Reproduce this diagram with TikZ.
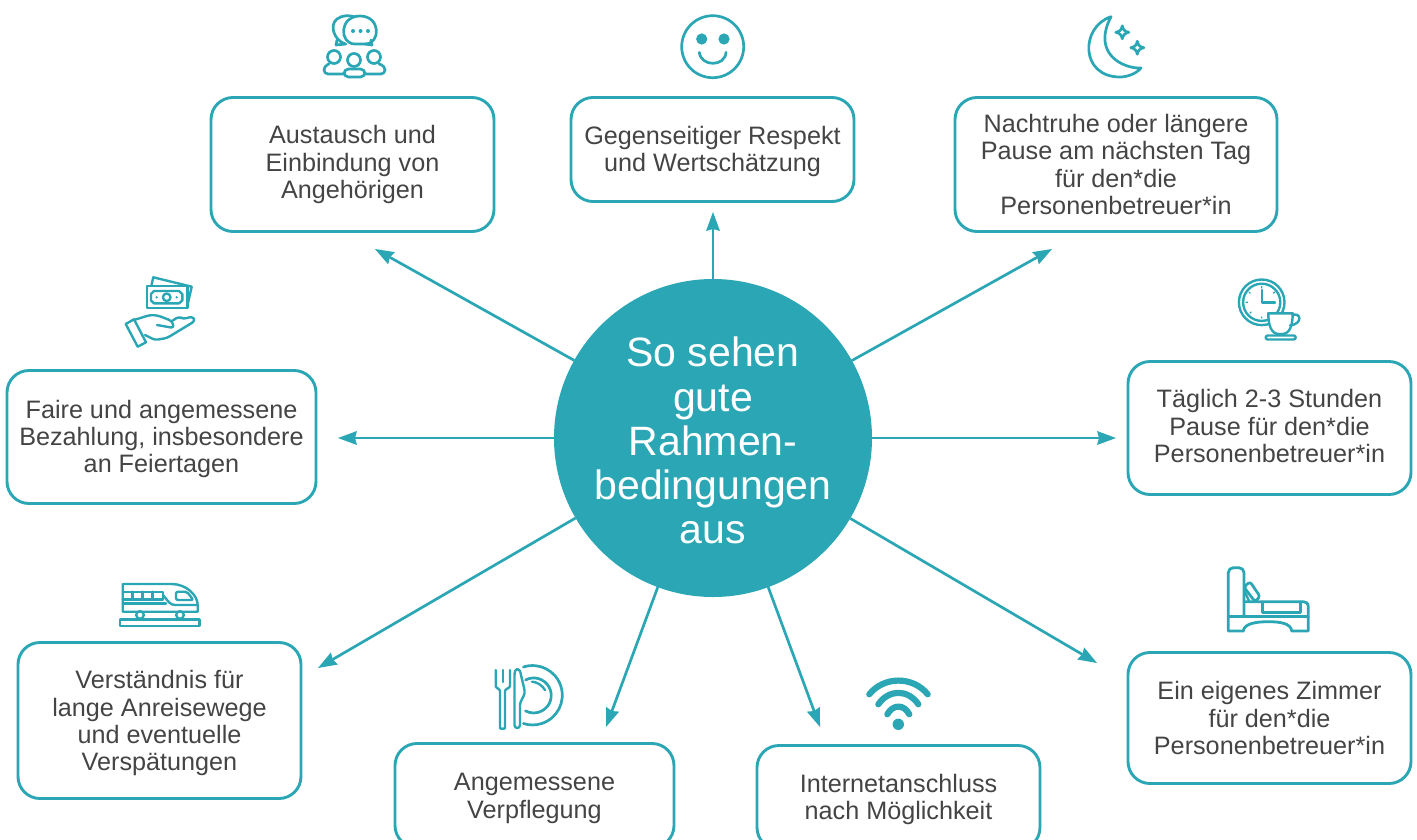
\documentclass[tikz,border=0pt]{standalone}
\usepackage{fontspec}
\setmainfont{Liberation Sans}
\usetikzlibrary{%
  positioning
 ,arrows.meta
}
\definecolor{petrol}{HTML}{2AA6B4}
\definecolor{schrift}{HTML}{444444}
\newcommand{\tief}[1]{\rule{0pt}{#1pt}}
\newcommand{\hoch}[1]{\rule[-#1pt]{0pt}{#1pt}}
\tikzstyle{rahmen}=[x=1pt,y=-1pt,inner sep=0pt,outer sep=0pt]
\tikzstyle{hub}=[circle,fill=petrol,minimum size=318pt,align=center,text=white,font=\fontsize{41}{44.3}\selectfont]
\tikzstyle{box}=[rectangle,draw=petrol,line width=2.9pt,rounded corners=22pt,align=center,text=schrift,font=\fontsize{25.2}{27.3}\selectfont]
\tikzstyle{pfeil}=[color=petrol,line width=2.7pt,-{Stealth[length=19pt,width=14pt,inset=2pt,line width=0pt]}]
\tikzstyle{icon}=[draw=petrol,line width=2.7pt,line cap=round,line join=round]
\tikzstyle{klein}=[icon,line width=2.4pt]
\tikzstyle{punkt}=[fill=petrol,draw=none]

\begin{document}
\begin{tikzpicture}[rahmen]
  \useasboundingbox (0,0) rectangle (1417,839);
  \node[hub] (mitte) at (713,438) {\tief{35}So sehen\\gute\\Rahmen-\\bedingungen\\aus};
% 
  \node[box,minimum width=283pt,minimum height=134pt] (b_aust) at (352.5,164.5) {Austausch und\\Einbindung von\\Angehörigen};
  \node[box,minimum width=283pt,minimum height=104pt] (b_resp) at (712.5,149.5) {\tief{22}Gegenseitiger Respekt\\und Wertschätzung};
  \node[box,minimum width=322pt,minimum height=134pt] (b_nacht) at (1116,164.5) {Nachtruhe oder längere\\Pause am nächsten Tag\\für den*die\\Personenbetreuer*in};
  \node[box,minimum width=283pt,minimum height=133pt] (b_pause) at (1269.5,428) {Täglich 2-3 Stunden\\Pause für den*die\\Personenbetreuer*in\hoch{4}};
  \node[box,minimum width=309pt,minimum height=133pt] (b_geld) at (161.5,437) {\tief{22}Faire und angemessene\\Bezahlung, insbesondere\\an Feiertagen};
  \node[box,minimum width=283pt,minimum height=156pt] (b_weg) at (159.5,720.5) {\tief{24}Verständnis für\\lange Anreisewege\\und eventuelle\\Verspätungen};
  \node[box,minimum width=279pt,minimum height=104pt] (b_essen) at (534.5,795.5) {\tief{23}Angemessene\\Verpflegung};
  \node[box,minimum width=283pt,minimum height=104pt] (b_netz) at (898.5,797.5) {\tief{22}Internetanschluss\\nach Möglichkeit};
  \node[box,minimum width=283pt,minimum height=131pt] (b_zimmer) at (1269.5,718) {Ein eigenes Zimmer\\für den*die\\Personenbetreuer*in};
% 
  \coordinate (t_aust) at (375,249);
  \coordinate (t_resp) at (713,212);
  \coordinate (t_nacht) at (1052,249);
  \coordinate (t_pause) at (1116,438);
  \coordinate (t_geld) at (338,438);
  \coordinate (t_weg) at (318,668);
  \coordinate (t_essen) at (606,727);
  \coordinate (t_netz) at (820,727);
  \coordinate (t_zimmer) at (1097,663);
  \path[pfeil]
  (mitte) edge (t_aust)
  (mitte) edge (t_resp)
  (mitte) edge (t_nacht)
  (mitte) edge (t_pause)
  (mitte) edge (t_geld)
  (mitte) edge (t_weg)
  (mitte) edge (t_essen)
  (mitte) edge (t_netz)
  (mitte) edge (t_zimmer);
% Menschen mit Sprechblasen
  \draw[icon] (345,44) .. controls (334,40) and (329,25) .. (337,19) .. controls (342,15) and (350,15) .. (355,17);
  \draw[icon] (337,40) -- (336,45) -- (346,44);
  \draw[icon,fill=white] (365,44) .. controls (381,44) and (381,16) .. (360,16) .. controls (339,16) and (339,44) .. (355,44) -- (365,44);
  \draw[icon] (371,40) -- (372,45) -- (365,44);
  \fill[punkt] (353,31) circle (2) (360.5,31) circle (2) (368,31) circle (2);
  \draw[icon] (334,57) circle (6.5) (374,57) circle (6.5) (354,60) circle (6.5);
  \draw[icon,rounded corners=4pt] (329,64) -- (324,66) -- (324,74) -- (345,74) (379,64) -- (385,66) -- (385,74) -- (365,74);
  \draw[icon,fill=white,rounded corners=4.5pt] (344,69) rectangle (365,77);
% Smiley
  \draw[icon] (712.7,46.7) circle (31);
  \fill[punkt] (701.7,39) circle (5.6) (724,39) circle (5.6);
  \draw[icon] (699.3,52.3) .. controls (701,67) and (725,67) .. (726,52.3);
% Mond
  \draw[icon] (1111,16.7) .. controls (1080,27) and (1080,77) .. (1120,77) .. controls (1128,77) and (1137,73) .. (1141,68) .. controls (1125,69) and (1091,55) .. (1111,16.7);
  \draw[icon] (1122.3,25.8) .. controls (1123,30) and (1125,31.6) .. (1128.8,32.3) .. controls (1125,33) and (1123,35) .. (1122.3,38.8) .. controls (1121.6,35) and (1119.6,33) .. (1115.8,32.3) .. controls (1119.6,31.6) and (1121.6,30) .. (1122.3,25.8);
  \draw[icon] (1137.3,41.2) .. controls (1138,45.4) and (1140,47) .. (1143.8,47.7) .. controls (1140,48.4) and (1138,50.4) .. (1137.3,54.2) .. controls (1136.6,50.4) and (1134.6,48.4) .. (1130.8,47.7) .. controls (1134.6,47) and (1136.6,45.4) .. (1137.3,41.2);
% Uhr und Tasse
  \draw[klein] (1261.7,302.3) circle (22.8) (1261.7,302.3) circle (18.6);
  \draw[klein] (1261.7,290) -- (1261.7,302.3) -- (1275,302.3);
  \draw[icon,line width=1.4pt] (1261.7,286.5) -- (1261.7,288) (1246,302.3) -- (1247.5,302.3) (1261.7,317) -- (1261.7,318) (1249,292) -- (1250,293) (1274.5,292) -- (1273.5,293) (1250,313) -- (1251,312);
  \draw[klein,fill=white] (1268.3,313.3) -- (1292.7,313.3) .. controls (1292.7,325) and (1290,334) .. (1282,334) -- (1279,334) .. controls (1271,334) and (1268.3,325) .. (1268.3,313.3) -- cycle;
  \draw[klein] (1292.7,315) .. controls (1301,312) and (1303,324) .. (1290,325.5);
  \draw[klein,rounded corners=2pt] (1265.7,335.5) rectangle (1295.7,339.5);
% Geld und Hand
  \draw[klein] (146.7,285.7) rectangle (187.3,307.7);
  \draw[klein] (154,291) -- (179,291) -- (182.3,294) -- (182.3,300.5) -- (179,303.3) -- (154,303.3) -- (151,300.5) -- (151,294) -- cycle;
  \draw[klein] (166.7,297.3) circle (3.8);
  \fill[punkt] (156.7,297.3) circle (1.3) (176.7,297.3) circle (1.3);
  \draw[klein] (151.5,285) -- (153.3,277.3) -- (191.7,286.7) -- (187.5,305);
  \draw[klein] (125.7,324) -- (134,319.3) -- (146,342.3) -- (137.7,346.7) -- cycle;
  \draw[klein,rounded corners=3pt] (134,320) -- (150,315) -- (158,315.5) -- (172,321) -- (174,328) -- (157,325);
  \draw[klein,rounded corners=3pt] (172,321) -- (179,316.5) -- (183,319) -- (193,316.5) -- (195,321) -- (167,338) -- (155,340) -- (145,335);
% Zug
  \draw[klein] (122.7,584) -- (171.7,584) .. controls (186,584) and (197.7,595) .. (197.7,605) -- (197.7,611.7) -- (122.7,611.7) -- cycle;
  \draw[klein] (122.7,591.7) -- (163,591.7) -- (163,599.3) -- (122.7,599.3) (132.3,591.7) -- (132.3,599.3) (142.3,591.7) -- (142.3,599.3) (152.3,591.7) -- (152.3,599.3);
  \draw[klein] (122.7,603.3) -- (166,603.3);
  \draw[klein] (163,595) .. controls (168,601) and (170,605) .. (175,605) -- (197.7,605);
  \draw[klein,rounded corners=2pt] (176,591.7) -- (187,591.7) -- (193.3,600) -- (176,600) -- cycle;
  \draw[klein] (140,615) circle (3.8) (180,615) circle (3.8);
  \draw[klein] (120,619.5) rectangle (199.3,625.7);
% Besteck und Teller
  \draw[klein,rounded corners=2pt] (495.7,670) -- (495.7,684) .. controls (495.7,688) and (500,689) .. (500,693) -- (500,726) .. controls (500,729) and (505,729) .. (505,726) -- (505,693) .. controls (505,689) and (510,688) .. (510,684) -- (510,670);
  \draw[klein] (503,670) -- (503,682);
  \draw[klein] (514.5,675) .. controls (514.5,667) and (520,667) .. (521,675) .. controls (523,684) and (525,690) .. (524.5,693) .. controls (524,697) and (520,701) .. (520,705) -- (520,725) .. controls (520,729) and (514.5,729) .. (514.5,725) -- cycle;
  \draw[icon] (523.4,667) arc (-108:108:29.7);
  \draw[icon] (525.5,680) arc (-118:118:17.5);
  \draw[klein] (532,681.7) .. controls (537,682) and (542,685) .. (545,690);
% WLAN
  \draw[icon,line width=6.2pt] (869.3,694.3) .. controls (884,676) and (913,676) .. (927.7,694.3);
  \draw[icon,line width=6.2pt] (878.3,704.3) .. controls (889,689) and (908,689) .. (918.3,704.3);
  \draw[icon,line width=6.2pt] (887.3,714.3) .. controls (893,704) and (904,704) .. (909.3,714.3);
  \fill[punkt] (898.3,724.3) circle (5.7);
% Bett
  \draw[icon,line width=2.8pt,rounded corners=5pt] (1228.3,616.7) -- (1228.3,567.7) -- (1244,567.7) -- (1244,616.7);
  \draw[icon,line width=2.8pt] (1228.3,616.7) -- (1308.3,616.7);
  \draw[icon,line width=2.8pt] (1228.3,616.7) -- (1228.3,631) -- (1243.3,631) .. controls (1244,623) and (1258,621.7) .. (1268.3,621.7) .. controls (1279,621.7) and (1291,623) .. (1291.7,631) -- (1308.3,631) -- (1308.3,607) .. controls (1308.3,603) and (1306,601.7) .. (1303.3,601.7) -- (1244,601.7);
  \draw[icon] (1262.7,602) -- (1262.7,612.3) -- (1300.7,612.3) -- (1300.7,602);
  \draw[icon,rounded corners=2.5pt] (1244,587) -- (1250,581.7) -- (1260,596.5) -- (1255,601.7) -- cycle;
  \draw[klein] (1244.5,591) -- (1249,601);
\end{tikzpicture}
\end{document}
